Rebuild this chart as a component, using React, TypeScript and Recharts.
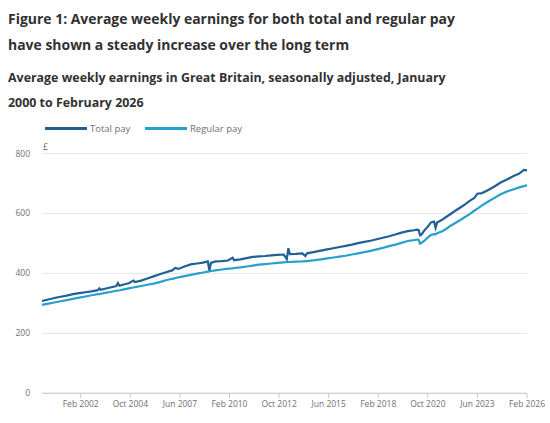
import React from 'react';
import { LineChart, Line, XAxis, YAxis, CartesianGrid } from 'recharts';

// month index: 0 = Jan 2000
const months = [0,4,8,12,16,20,24,28,32,36,37,38,40,44,48,49,50,52,56,59,60,64,68,72,76,80,84,86,88,92,96,100,104,107,108,109,112,116,120,123,124,128,132,136,140,144,148,152,156,158,159,160,164,168,170,171,176,180,184,188,192,196,200,204,208,212,216,220,224,228,232,236,240,242,243,244,245,247,249,251,253,254,255,258,261,264,267,270,273,276,279,281,284,288,292,296,300,304,308,311,313];
const totalPay = [308,313,318,322,326,331,334,337,340,344,350,345,348,353,358,368,359,362,367,376,371,376,383,390,397,404,410,418,415,423,430,433,436,440,410,435,440,441,443,452,444,447,451,455,457,458,460,462,463,448,484,464,465,467,458,467,472,476,480,484,488,492,496,501,505,509,514,519,524,530,536,541,544,546,545,527,530,545,556,570,573,552,570,578,589,599,610,620,630,642,652,666,668,678,690,703,713,724,733,745,744];
const regularPay = [295,299,303,307,311,315,319,323,327,331,331,332,334,338,342,343,343,346,350,353,354,358,362,366,371,377,382,384,387,391,395,399,403,406,407,408,410,413,416,417,418,420,423,426,429,431,433,435,437,438,438,438,439,440,441,441,444,447,450,453,456,459,463,467,471,475,480,485,491,496,502,508,511,513,512,499,502,510,520,528,531,530,534,540,549,560,569,578,588,598,609,616,627,640,652,664,673,680,687,691,694];

const xTickMonths = [25,57,89,121,153,185,217,249,281,313];
const xTickLabels = ['Feb 2002','Oct 2004','Jun 2007','Feb 2010','Oct 2012','Jun 2015','Feb 2018','Oct 2020','Jun 2023','Feb 2026'];
const yTicks = [0,200,400,600,800];
const seriesNames = ['Total pay','Regular pay'];
const seriesColors = ['#206095','#27a0cc'];

const data = months.map((m, i) => ({ m, total: totalPay[i], regular: regularPay[i] }));

const FONT = '"Open Sans", sans-serif';

export default function App() {
  return (
    <div style={{ position: 'absolute', left: 0, top: 0, width: 550, height: 423, background: '#fff', fontFamily: FONT, overflow: 'hidden' }}>
      <div style={{ position: 'absolute', left: 8, top: 5.1, fontSize: 15, fontWeight: 700, lineHeight: '26px', color: '#323132', whiteSpace: 'nowrap', transform: 'scaleX(0.93)', transformOrigin: 'left top' }}>
        <div>Figure 1: Average weekly earnings for both total and regular pay</div>
        <div>have shown a steady increase over the long term</div>
      </div>
      <div style={{ position: 'absolute', left: 8, top: 64.7, fontSize: 13, fontWeight: 700, lineHeight: '25.5px', color: '#323132', whiteSpace: 'nowrap', transform: 'scaleX(0.955)', transformOrigin: 'left top' }}>
        <div>Average weekly earnings in Great Britain, seasonally adjusted, January</div>
        <div>2000 to February 2026</div>
      </div>
      {/* legend */}
      <div style={{ position: 'absolute', left: 45, top: 127, width: 42, height: 3, background: seriesColors[0] }} />
      <div style={{ position: 'absolute', left: 90, top: 121.8, fontSize: 9.5, lineHeight: 'normal', color: '#707070', whiteSpace: 'nowrap' }}>{seriesNames[0]}</div>
      <div style={{ position: 'absolute', left: 145, top: 127, width: 42, height: 3, background: seriesColors[1] }} />
      <div style={{ position: 'absolute', left: 190, top: 121.8, fontSize: 9.5, lineHeight: 'normal', color: '#707070', whiteSpace: 'nowrap' }}>{seriesNames[1]}</div>
      <div style={{ position: 'absolute', left: 43, top: 140.4, fontSize: 9, lineHeight: 'normal', color: '#707070' }}>£</div>
      <div style={{ position: 'absolute', left: 0, top: 0 }}>
        <LineChart width={550} height={423} data={data} margin={{ top: 153.5, right: 23, bottom: 0, left: 0 }}>
          <CartesianGrid vertical={false} stroke="#e6e6e6" strokeWidth={1} />
          <XAxis
            dataKey="m"
            type="number"
            domain={[0, 313]}
            ticks={xTickMonths}
            tickFormatter={(v: number) => xTickLabels[xTickMonths.indexOf(v)]}
            height={29.7}
            tickSize={5}
            tickMargin={3}
            interval={0}
            stroke="#c8c8c8"
            tick={{ fontSize: 8.5, fill: '#707070', fontFamily: FONT }}
            axisLine={{ stroke: '#c8c8c8' }}
            tickLine={{ stroke: '#c8c8c8' }}
          />
          <YAxis
            domain={[0, 800]}
            ticks={yTicks}
            width={42}
            axisLine={false}
            tickLine={false}
            tickSize={0}
            tickMargin={12}
            tick={{ fontSize: 8.5, fill: '#707070', fontFamily: FONT }}
          />
          <Line type="linear" dataKey="regular" stroke={seriesColors[1]} strokeWidth={2.2} dot={false} isAnimationActive={false} />
          <Line type="linear" dataKey="total" stroke={seriesColors[0]} strokeWidth={2.2} dot={false} isAnimationActive={false} />
        </LineChart>
      </div>
    </div>
  );
}
